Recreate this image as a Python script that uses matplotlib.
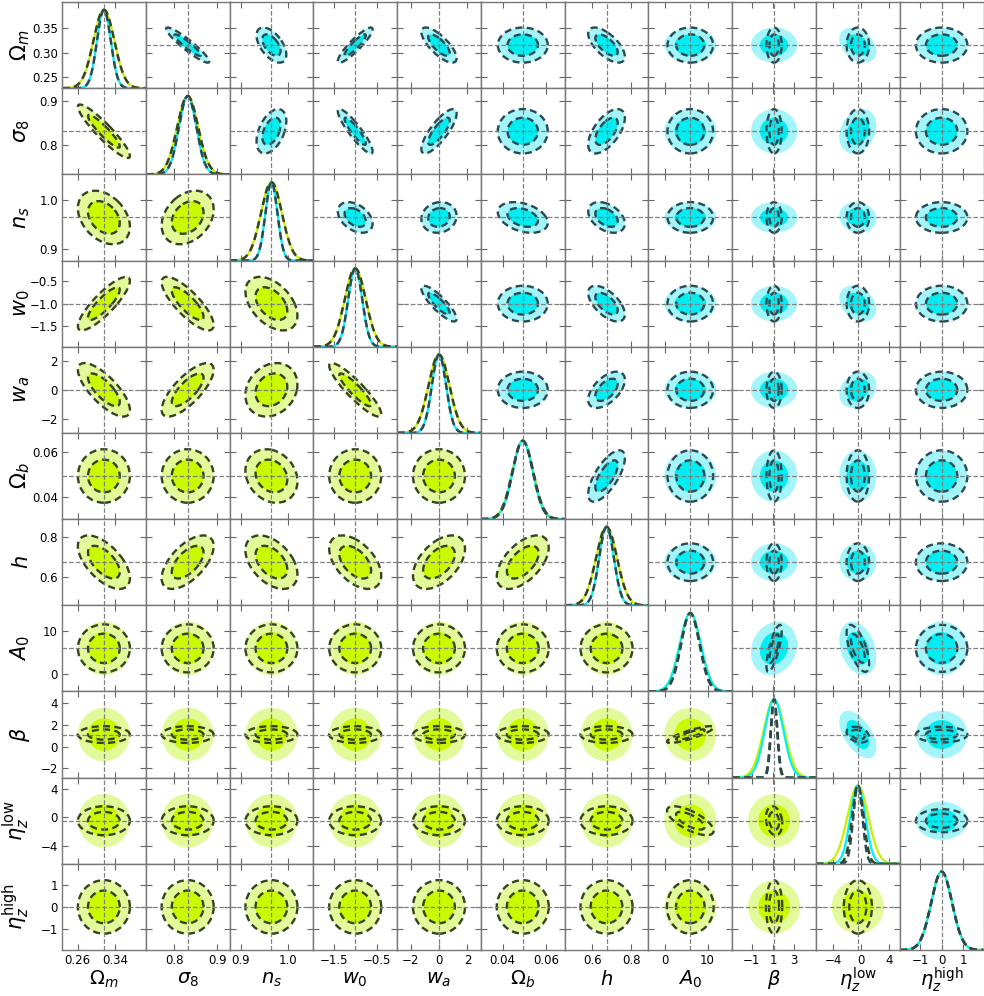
import numpy as np
import matplotlib
matplotlib.use("Agg")
import matplotlib.pyplot as plt
from matplotlib.patches import Ellipse

# parameters
labels = [r"$\Omega_m$", r"$\sigma_8$", r"$n_s$", r"$w_0$", r"$w_a$", r"$\Omega_b$",
          r"$h$", r"$A_0$", r"$\beta$", r"$\eta_z^{\rm low}$", r"$\eta_z^{\rm high}$"]
fiducial = [0.3156, 0.831, 0.9645, -1.0, 0.0, 0.0492, 0.6727, 5.92, 1.10, -0.47, 0.0]

# marginal 1-sigma errors of the four forecasts
sig_lower_fill = [0.0221, 0.0245, 0.0220, 0.2425, 0.7375, 0.00479, 0.0535, 2.475, 0.99, 1.50, 0.49]
sig_lower_dash = [0.0221, 0.0245, 0.0220, 0.2425, 0.7375, 0.00479, 0.0535, 2.22, 0.31, 0.81, 0.49]
sig_upper_fill = [0.0145, 0.0203, 0.0126, 0.162, 0.50, 0.0046, 0.0377, 2.47, 0.88, 1.07, 0.485]
sig_upper_dash = [0.0145, 0.0203, 0.0126, 0.162, 0.50, 0.0046, 0.0377, 2.17, 0.29, 0.65, 0.485]

# correlation coefficients (i, j, rho)
corr_lower = [(1, 0, -0.92), (2, 0, -0.35), (2, 1, 0.30), (3, 0, 0.85), (3, 1, -0.80),
              (3, 2, -0.45), (4, 0, -0.75), (4, 1, 0.75), (4, 2, 0.20), (4, 3, -0.90),
              (5, 2, -0.20), (6, 0, -0.60), (6, 1, 0.60), (6, 2, -0.45), (6, 3, -0.50),
              (6, 4, 0.50), (6, 5, 0.55)]
corr_upper = [(1, 0, -0.93), (2, 0, -0.55), (2, 1, 0.45), (3, 0, 0.90), (3, 1, -0.90),
              (3, 2, -0.40), (4, 0, -0.75), (4, 1, 0.80), (4, 2, 0.10), (4, 3, -0.85),
              (5, 2, -0.35), (6, 0, -0.65), (6, 1, 0.60), (6, 2, -0.40), (6, 3, -0.60),
              (6, 4, 0.55), (6, 5, 0.70)]
nuis_lower_fill = []
nuis_lower_dash = [(8, 7, 0.85), (9, 7, -0.70), (9, 8, -0.20)]
nuis_upper_fill = [(8, 7, 0.15), (9, 7, -0.30), (9, 8, -0.55), (9, 0, -0.35), (9, 1, 0.25),
                   (9, 2, -0.10), (9, 3, -0.30), (9, 4, 0.25)]
nuis_upper_dash = [(8, 7, 0.75), (9, 7, -0.65), (9, 8, -0.30)]

xticks = [[0.26, 0.34], [0.8, 0.9], [0.9, 1.0], [-1.5, -0.5], [-2, 0, 2], [0.04, 0.06],
          [0.6, 0.8], [0, 10], [-1, 1, 3], [-4, 0, 4], [-1, 0, 1]]
yticks = [[0.25, 0.30, 0.35], [0.8, 0.9], [0.9, 1.0], [-1.5, -1.0, -0.5], [-2, 0, 2],
          [0.04, 0.06], [0.6, 0.8], [0, 10], [-2, 0, 2, 4], [-4, 0, 4], [-1, 0, 1]]

n = len(labels)


def corr_matrix(*pair_lists):
    c = np.eye(n)
    for pairs in pair_lists:
        for i, j, r in pairs:
            c[i, j] = c[j, i] = r
    return c


c_lf = corr_matrix(corr_lower, nuis_lower_fill)
c_ld = corr_matrix(corr_lower, nuis_lower_dash)
c_uf = corr_matrix(corr_upper, nuis_upper_fill)
c_ud = corr_matrix(corr_upper, nuis_upper_dash)

lims = [(f - 4 * s, f + 4 * s) for f, s in zip(fiducial, sig_lower_fill)]

levels = [np.sqrt(6.17), np.sqrt(2.30)]  # 2 sigma, 1 sigma for 2 parameters

yg_out, yg_in = "#e3fa9a", "#cbfa00"
cy_out, cy_in = "#a4f5fa", "#00eef2"
yg_line, cy_line = "#c8f000", "#00f0f5"
olive, slate = "#36431f", "#2a4a52"
dash = (0, (3, 1.8))
lab_size = 14
tick_size = 8.5


def ellipse(ax, x0, y0, sx, sy, rho, k, **kw):
    cov = np.array([[sx * sx, rho * sx * sy], [rho * sx * sy, sy * sy]])
    vals, vecs = np.linalg.eigh(cov)
    ang = np.degrees(np.arctan2(vecs[1, 1], vecs[0, 1]))
    e = Ellipse((x0, y0), 2 * k * np.sqrt(vals[1]), 2 * k * np.sqrt(vals[0]), angle=ang, **kw)
    ax.add_patch(e)


fig, axes = plt.subplots(n, n, figsize=(9.84, 9.96), dpi=100)
fig.subplots_adjust(left=62 / 984, right=0.9995, bottom=1 - 950 / 996, top=1 - 2 / 996,
                    wspace=0, hspace=0)

for i in range(n):
    for j in range(n):
        ax = axes[i, j]
        ax.set_xlim(lims[j])
        if i == j:
            x = np.linspace(lims[j][0], lims[j][1], 400)
            for s, col, ls, lw in [(sig_lower_fill[j], yg_line, "-", 1.6),
                                   (sig_upper_fill[j], cy_line, "-", 1.6),
                                   (sig_lower_dash[j], olive, dash, 1.8),
                                   (sig_upper_dash[j], slate, dash, 1.8)]:
                ax.plot(x, np.exp(-0.5 * ((x - fiducial[j]) / s) ** 2), color=col, ls=ls, lw=lw)
            ax.set_ylim(0, 1.1)
            ax.set_yticks([])
            ax.axvline(fiducial[j], color="gray", ls="--", lw=0.9, zorder=5)
        else:
            ax.set_ylim(lims[i])
            ax.set_yticks(yticks[i])
            if i > j:
                sig_f, sig_d, cf, cd = sig_lower_fill, sig_lower_dash, c_lf, c_ld
                fo, fi, dc = yg_out, yg_in, olive
            else:
                sig_f, sig_d, cf, cd = sig_upper_fill, sig_upper_dash, c_uf, c_ud
                fo, fi, dc = cy_out, cy_in, slate
            for k, fc in zip(levels, [fo, fi]):
                ellipse(ax, fiducial[j], fiducial[i], sig_f[j], sig_f[i], cf[i, j], k,
                        facecolor=fc, edgecolor="none", zorder=1)
            for k in levels:
                ellipse(ax, fiducial[j], fiducial[i], sig_d[j], sig_d[i], cd[i, j], k,
                        facecolor="none", edgecolor=dc, ls=dash, lw=1.7, zorder=3)
            ax.axvline(fiducial[j], color="gray", ls="--", lw=0.9, zorder=5)
            ax.axhline(fiducial[i], color="gray", ls="--", lw=0.9, zorder=5)
        ax.set_xticks(xticks[j])
        ax.tick_params(direction="in", top=True, right=True, length=4, width=0.8,
                       color="#666666", labelsize=tick_size, pad=3,
                       labelbottom=(i == n - 1), labelleft=(j == 0 and i != 0))
        for sp in ax.spines.values():
            sp.set_color("#777777")
            sp.set_linewidth(1.0)
        if i == n - 1:
            ax.set_xlabel(labels[j], fontsize=lab_size, va="center")
            ax.xaxis.set_label_coords(0.5, -0.345)
        if j == 0 and i != 0:
            ax.set_ylabel(labels[i], fontsize=lab_size + 1)
            ax.yaxis.set_label_coords(-0.36, 0.5)

# y axis of the first diagonal panel shows Omega_m
tw = axes[0, 0].twinx()
tw.set_ylim(lims[0])
tw.set_yticks(yticks[0])
tw.yaxis.set_ticks_position("left")
tw.yaxis.set_label_position("left")
tw.tick_params(direction="in", length=4, width=0.8, color="#666666", labelsize=tick_size, pad=3)
tw.set_ylabel(labels[0], fontsize=lab_size + 1)
tw.yaxis.set_label_coords(-0.36, 0.5)
for sp in tw.spines.values():
    sp.set_color("#777777")

fig.savefig("out.png", dpi=100)
